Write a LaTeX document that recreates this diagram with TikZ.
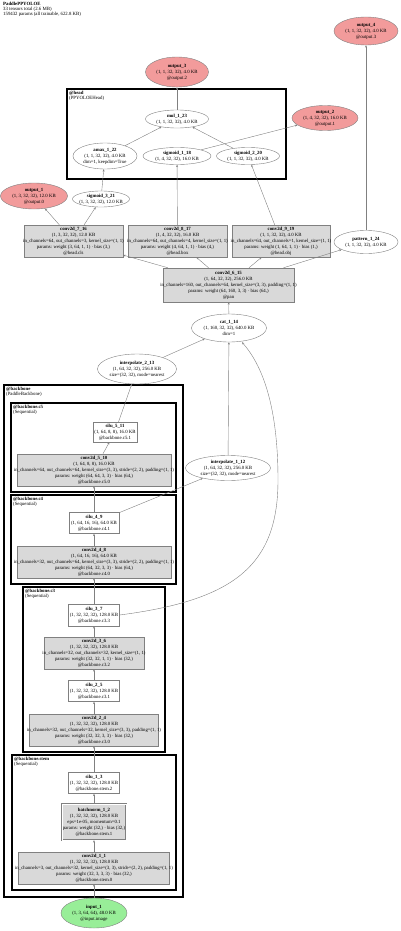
\documentclass[tikz,border=0pt]{standalone}
\usepackage{fontspec}
\setmainfont{Liberation Serif}
\usetikzlibrary{shapes.geometric,arrows.meta}
\definecolor{linegray}{HTML}{808080}
\definecolor{boxfill}{HTML}{D9D9D9}
\definecolor{outfill}{HTML}{F29B9B}
\definecolor{infill}{HTML}{98EE98}
\begin{document}
\begin{tikzpicture}[x=1pt,y=-1pt,
  >={Stealth[length=2.4pt,width=2pt]},
  txt/.style={font=\fontsize{4.8}{6}\selectfont, align=center},
  opbox/.style={txt, rectangle, draw=linegray, fill=boxfill, inner xsep=-40pt, inner ysep=0pt},
  smallbox/.style={txt, rectangle, draw=linegray, fill=white, inner xsep=-40pt, inner ysep=0pt},
  tensor/.style={txt, ellipse, draw=linegray, fill=white, inner xsep=-14pt, inner ysep=-4pt},
  outnode/.style={tensor, fill=outfill},
  innode/.style={tensor, fill=infill},
  cluster/.style={draw=black, line width=1.2pt},
  clabel/.style={font=\fontsize{4.8}{5}\selectfont, align=left, anchor=north west, inner sep=0pt},
  edge/.style={draw=linegray, line width=0.4pt, ->}]
\useasboundingbox (0,0) rectangle (400,931);

\node[clabel] (title) at (3,2) {\textbf{PaddlePPYOLOE}\\33 tensors total (2.6 MB)\\159432 params (all trainable, 622.8 KB)};

% clusters
\draw[cluster] (67,89) rectangle (286,179);
\node[clabel] (headlbl) at (69,90.5) {\textbf{@head}\\(PPYOLOEHead)};
\draw[cluster] (4,385) rectangle (183,897);
\node[clabel] (bblbl) at (6,386.5) {\textbf{@backbone}\\(PaddleBackbone)};
\draw[cluster] (11,403) rectangle (176,492);
\node[clabel] (c5lbl) at (13,404.5) {\textbf{@backbone.c5}\\(Sequential)};
\draw[cluster] (11,495) rectangle (176,584);
\node[clabel] (c4lbl) at (13,496.5) {\textbf{@backbone.c4}\\(Sequential)};
\draw[cluster] (23,587) rectangle (165,752);
\node[clabel] (c3lbl) at (25,588.5) {\textbf{@backbone.c3}\\(Sequential)};
\draw[cluster] (12,755) rectangle (176,890);
\node[clabel] (stemlbl) at (14,756.5) {\textbf{@backbone.stem}\\(Sequential)};

% head and outputs
\node[outnode, minimum width=64, minimum height=28] (out4) at (366,31) {\textbf{output\_4}\\(1, 1, 32, 32), 4.0 KB\\@output.3};
\node[outnode, minimum width=63, minimum height=30] (out3) at (177,72) {\textbf{output\_3}\\(1, 1, 32, 32), 4.0 KB\\@output.2};
\node[tensor, minimum width=63, minimum height=18] (mul) at (177,119) {\textbf{mul\_1\_23}\\(1, 1, 32, 32), 4.0 KB};
\node[outnode, minimum width=66, minimum height=25] (out2) at (325,118) {\textbf{output\_2}\\(1, 4, 32, 32), 16.0 KB\\@output.1};
\node[tensor, minimum width=64, minimum height=26] (amax) at (105,156) {\textbf{amax\_1\_22}\\(1, 1, 32, 32), 4.0 KB\\dim=1, keepdim=True};
\node[tensor, minimum width=68, minimum height=17] (sig1) at (177,156) {\textbf{sigmoid\_1\_18}\\(1, 4, 32, 32), 16.0 KB};
\node[tensor, minimum width=63, minimum height=17] (sig2) at (248,156) {\textbf{sigmoid\_2\_20}\\(1, 1, 32, 32), 4.0 KB};
\node[outnode, minimum width=67, minimum height=26] (out1) at (34,196) {\textbf{output\_1}\\(1, 3, 32, 32), 12.0 KB\\@output.0};
\node[tensor, minimum width=57, minimum height=16] (sig3) at (101,199) {\textbf{sigmoid\_3\_21}\\(1, 3, 32, 32), 12.0 KB};
\node[opbox, minimum width=99, minimum height=32] (conv7) at (73.5,241) {\textbf{conv2d\_7\_16}\\(1, 3, 32, 32), 12.0 KB\\in\_channels=64, out\_channels=3, kernel\_size=(1, 1)\\params: weight (3, 64, 1, 1) · bias (3,)\\@head.cls};
\node[opbox, minimum width=99, minimum height=32] (conv8) at (177.5,241) {\textbf{conv2d\_8\_17}\\(1, 4, 32, 32), 16.0 KB\\in\_channels=64, out\_channels=4, kernel\_size=(1, 1)\\params: weight (4, 64, 1, 1) · bias (4,)\\@head.box};
\node[opbox, minimum width=98, minimum height=32] (conv9) at (281,241) {\textbf{conv2d\_9\_19}\\(1, 1, 32, 32), 4.0 KB\\in\_channels=64, out\_channels=1, kernel\_size=(1, 1)\\params: weight (1, 64, 1, 1) · bias (1,)\\@head.obj};
\node[tensor, minimum width=64, minimum height=23] (pattern) at (366,242) {\textbf{pattern\_1\_24}\\(1, 1, 32, 32), 4.0 KB};
\node[opbox, minimum width=131, minimum height=34] (conv6) at (228.5,285) {\textbf{conv2d\_6\_15}\\(1, 64, 32, 32), 256.0 KB\\in\_channels=160, out\_channels=64, kernel\_size=(3, 3), padding=(1, 1)\\params: weight (64, 160, 3, 3) · bias (64,)\\@pan};
\node[tensor, minimum width=75, minimum height=28] (cat) at (229,328) {\textbf{cat\_1\_14}\\(1, 160, 32, 32), 640.0 KB\\dim=1};
\node[tensor, minimum width=79, minimum height=30] (interp2) at (137,369) {\textbf{interpolate\_2\_13}\\(1, 64, 32, 32), 256.0 KB\\size=(32, 32), mode=nearest};
\node[tensor, minimum width=85, minimum height=25] (interp1) at (228,468) {\textbf{interpolate\_1\_12}\\(1, 64, 32, 32), 256.0 KB\\size=(32, 32), mode=nearest};

% backbone
\node[smallbox, minimum width=44, minimum height=20] (silu5) at (115,432) {\textbf{silu\_5\_11}\\(1, 64, 8, 8), 16.0 KB\\@backbone.c5.1};
\node[opbox, minimum width=154, minimum height=32] (conv5) at (94,470) {\textbf{conv2d\_5\_10}\\(1, 64, 8, 8), 16.0 KB\\in\_channels=64, out\_channels=64, kernel\_size=(3, 3), stride=(2, 2), padding=(1, 1)\\params: weight (64, 64, 3, 3) · bias (64,)\\@backbone.c5.0};
\node[smallbox, minimum width=50, minimum height=21] (silu4) at (94,523) {\textbf{silu\_4\_9}\\(1, 64, 16, 16), 64.0 KB\\@backbone.c4.1};
\node[opbox, minimum width=154, minimum height=32] (conv4) at (94,562) {\textbf{conv2d\_4\_8}\\(1, 64, 16, 16), 64.0 KB\\in\_channels=32, out\_channels=64, kernel\_size=(3, 3), stride=(2, 2), padding=(1, 1)\\params: weight (64, 32, 3, 3) · bias (64,)\\@backbone.c4.0};
\node[smallbox, minimum width=51, minimum height=22] (silu3) at (94,615) {\textbf{silu\_3\_7}\\(1, 32, 32, 32), 128.0 KB\\@backbone.c3.3};
\node[opbox, minimum width=100, minimum height=32] (conv3) at (94,653) {\textbf{conv2d\_3\_6}\\(1, 32, 32, 32), 128.0 KB\\in\_channels=32, out\_channels=32, kernel\_size=(1, 1)\\params: weight (32, 32, 1, 1) · bias (32,)\\@backbone.c3.2};
\node[smallbox, minimum width=51, minimum height=21] (silu2) at (94,691) {\textbf{silu\_2\_5}\\(1, 32, 32, 32), 128.0 KB\\@backbone.c3.1};
\node[opbox, minimum width=129, minimum height=32] (conv2) at (94,730) {\textbf{conv2d\_2\_4}\\(1, 32, 32, 32), 128.0 KB\\in\_channels=32, out\_channels=32, kernel\_size=(3, 3), padding=(1, 1)\\params: weight (32, 32, 3, 3) · bias (32,)\\@backbone.c3.0};
\node[smallbox, minimum width=51, minimum height=21] (silu1) at (94,783) {\textbf{silu\_1\_3}\\(1, 32, 32, 32), 128.0 KB\\@backbone.stem.2};
\node[opbox, double, double distance=0.8pt, minimum width=64, minimum height=36] (bn1) at (94,822) {\textbf{batchnorm\_1\_2}\\(1, 32, 32, 32), 128.0 KB\\eps=1e-05, momentum=0.1\\params: weight (32,) · bias (32,)\\@backbone.stem.1};
\node[opbox, minimum width=151, minimum height=32] (conv1) at (94,868) {\textbf{conv2d\_1\_1}\\(1, 32, 32, 32), 128.0 KB\\in\_channels=3, out\_channels=32, kernel\_size=(3, 3), stride=(2, 2), padding=(1, 1)\\params: weight (32, 3, 3, 3) · bias (32,)\\@backbone.stem.0};
\node[innode, minimum width=66, minimum height=30] (input) at (94,913) {\textbf{input\_1}\\(1, 3, 64, 64), 48.0 KB\\@input.image};

% connectors
\draw[edge] (input) -- (conv1);
\draw[edge] (conv1) -- (bn1);
\draw[edge] (bn1) -- (silu1);
\draw[edge] (silu1) -- (conv2);
\draw[edge] (conv2) -- (silu2);
\draw[edge] (silu2) -- (conv3);
\draw[edge] (conv3) -- (silu3);
\draw[edge] (silu3) -- (conv4);
\draw[edge] (silu3.east) .. controls (235,600) and (278,565) .. (278,480) .. controls (278,405) and (262,365) .. ([xshift=13pt]cat.south);
\draw[edge] (conv4) -- (silu4);
\draw[edge] (silu4) -- (conv5);
\draw[edge] (silu4) -- (interp1);
\draw[edge] (conv5) -- (silu5);
\draw[edge] (silu5) -- (interp2);
\draw[edge] (interp2) -- (cat);
\draw[edge] (interp1) -- (cat);
\draw[edge] (cat) -- (conv6);
\draw[edge] (conv6) -- (conv7);
\draw[edge] (conv6) -- (conv8);
\draw[edge] (conv6) -- (conv9);
\draw[edge] (conv6) -- (pattern);
\draw[edge] (conv7) -- (out1);
\draw[edge] (conv7) -- (sig3);
\draw[edge] (sig3) -- (amax);
\draw[edge] (conv8) -- (sig1);
\draw[edge] (conv9) -- (sig2);
\draw[edge] (sig1) -- (out2);
\draw[edge] (amax) -- (mul);
\draw[edge] (sig2) -- (mul);
\draw[edge] (mul) -- (out3);
\draw[edge] (pattern) -- (out4);
\end{tikzpicture}
\end{document}
